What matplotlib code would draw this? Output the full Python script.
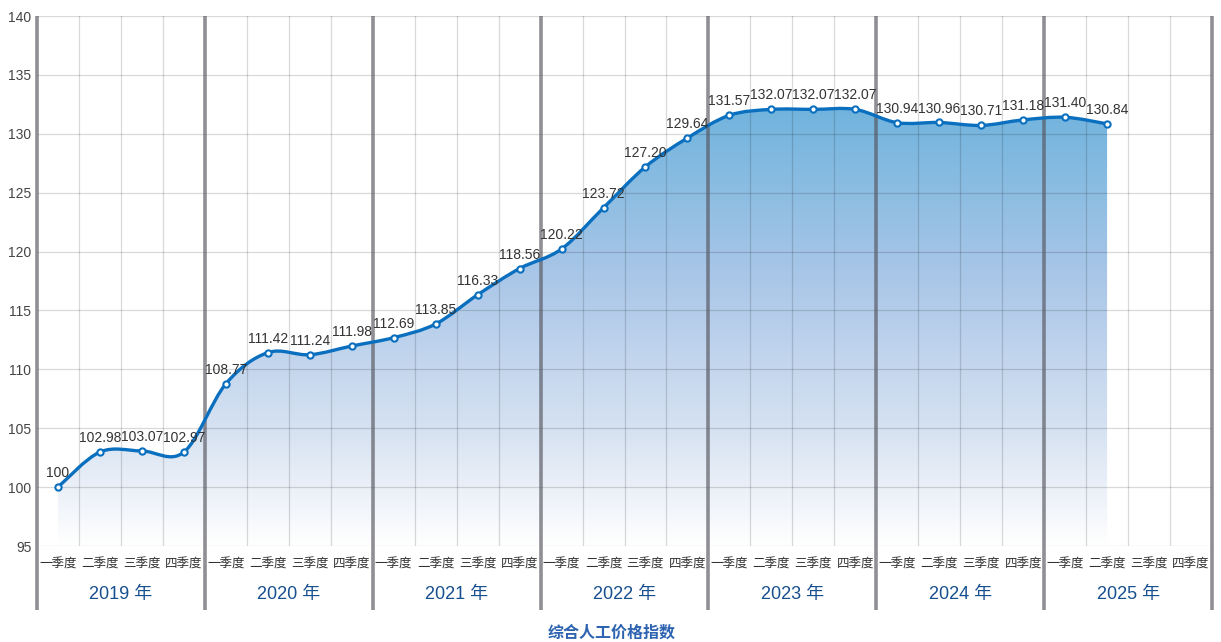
import numpy as np
import matplotlib
matplotlib.use('Agg')
import matplotlib.pyplot as plt
from matplotlib.path import Path
from matplotlib.patches import PathPatch
from matplotlib.colors import LinearSegmentedColormap

plt.rcParams['font.family'] = ['Liberation Sans', 'Noto Sans CJK SC', 'DejaVu Sans']

# Data
years = ['2019 年', '2020 年', '2021 年', '2022 年', '2023 年', '2024 年', '2025 年']
quarters = ['一季度', '二季度', '三季度', '四季度']
values = [100, 102.98, 103.07, 102.97,
          108.77, 111.42, 111.24, 111.98,
          112.69, 113.85, 116.33, 118.56,
          120.22, 123.72, 127.20, 129.64,
          131.57, 132.07, 132.07, 132.07,
          130.94, 130.96, 130.71, 131.18,
          131.40, 130.84]
labels = ['100', '102.98', '103.07', '102.97',
          '108.77', '111.42', '111.24', '111.98',
          '112.69', '113.85', '116.33', '118.56',
          '120.22', '123.72', '127.20', '129.64',
          '131.57', '132.07', '132.07', '132.07',
          '130.94', '130.96', '130.71', '131.18',
          '131.40', '130.84']
title = '综合人工价格指数'

LINE = '#0a6fbf'
YMIN, YMAX = 95, 140
n_slots = len(years) * len(quarters)

fig = plt.figure(figsize=(12.21, 6.42), dpi=100)
ax = fig.add_axes([37 / 1221, 1 - 546 / 642, (1212 - 37) / 1221, 530 / 642])
ax.set_xlim(0, n_slots)
ax.set_ylim(YMIN, YMAX)
for s in ax.spines.values():
    s.set_visible(False)

# smooth curve through the points (Catmull-Rom as cubic Bezier)
xs = np.arange(len(values)) + 0.5
pts = np.column_stack([xs, values])
verts = [pts[0]]
codes = [Path.MOVETO]
for i in range(len(pts) - 1):
    p0 = pts[max(i - 1, 0)]
    p1 = pts[i]
    p2 = pts[i + 1]
    p3 = pts[min(i + 2, len(pts) - 1)]
    verts += [p1 + (p2 - p0) / 6, p2 - (p3 - p1) / 6, p2]
    codes += [Path.CURVE4] * 3
line_path = Path(verts, codes)

fill_verts = verts + [(xs[-1], YMIN), (xs[0], YMIN), verts[0]]
fill_codes = codes + [Path.LINETO, Path.LINETO, Path.CLOSEPOLY]
fill_patch = PathPatch(Path(fill_verts, fill_codes), facecolor='none', edgecolor='none')
ax.add_patch(fill_patch)

# vertical gradient for the area
top = max(values) + 0.3
cmap = LinearSegmentedColormap.from_list('area', [
    (0.0, '#ffffff'),
    (0.25, '#d8e3f2'),
    (0.6, '#abc7e8'),
    (1.0, '#70b3dd'),
])
grad = np.linspace(0, 1, 256).reshape(-1, 1)
im = ax.imshow(grad, cmap=cmap, origin='lower', aspect='auto',
               extent=[xs[0], xs[-1], YMIN, top], zorder=1)
im.set_clip_path(fill_patch)
ax.set_xlim(0, n_slots)
ax.set_ylim(YMIN, YMAX)

# grid lines (semi-transparent so they show through the fill)
for y in range(YMIN, YMAX + 1, 5):
    ax.axhline(y, color=(0, 0, 0, 0.15), lw=0.9, zorder=2)
for k in range(n_slots + 1):
    if k % 4:
        ax.axvline(k, color=(0, 0, 0, 0.15), lw=0.9, zorder=2)
ax.vlines(np.arange(0, n_slots + 1, 4), -0.121, 1, transform=ax.get_xaxis_transform(),
          colors=(0.33, 0.33, 0.36, 0.65), lw=2.6, clip_on=False, zorder=3)

# line + markers
ax.add_patch(PathPatch(line_path, facecolor='none', edgecolor=LINE, lw=2.4,
                       capstyle='round', joinstyle='round', zorder=4))
ax.plot(xs, values, 'o', ms=4.5, mfc='white', mec=LINE, mew=1.5, zorder=5)

for x, v, t in zip(xs, values, labels):
    ax.annotate(t, (x, v), xytext=(0, 5), textcoords='offset points',
                ha='center', va='bottom', fontsize=10, color='#333333', zorder=6)

# axes ticks
ax.set_yticks(range(YMIN, YMAX + 1, 5))
ax.tick_params(axis='y', length=0, pad=4, labelsize=10, labelcolor='#444444')
ax.set_xticks(np.arange(n_slots) + 0.5)
ax.set_xticklabels(quarters * len(years))
ax.tick_params(axis='x', length=0, pad=9, labelsize=9, labelcolor='#333333')

for i, yr in enumerate(years):
    ax.text(i * 4 + 2, -0.092, yr, transform=ax.get_xaxis_transform(),
            ha='center', va='center', fontsize=13, color='#17508f')

fig.text(612 / 1221, 1 - 633 / 642, title, ha='center', va='center',
         fontsize=11.5, fontweight='bold', color='#2d63b0')

fig.savefig('out.png', dpi=100)
